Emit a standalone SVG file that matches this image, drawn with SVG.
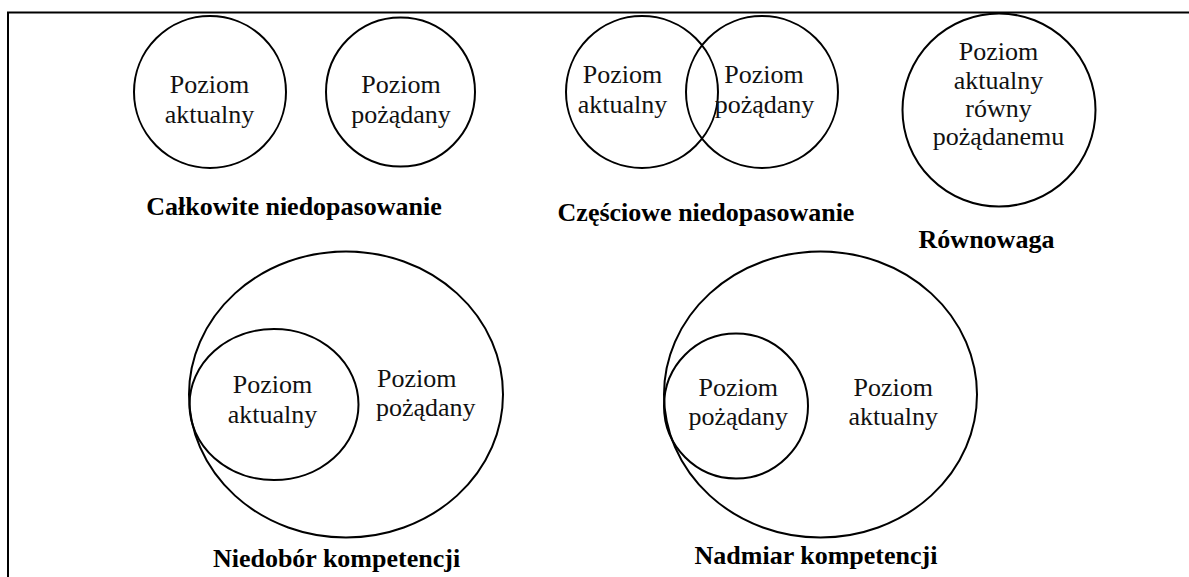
<svg xmlns="http://www.w3.org/2000/svg" width="1189" height="577" viewBox="0 0 1189 577">
  <style>
    .ring { fill: none; stroke: #000; stroke-width: 2; }
    .frame { fill: none; stroke: #000; stroke-width: 2; }
    .lbl { font-family: "Liberation Serif", "Times New Roman", serif; font-size: 26px; fill: #111; text-anchor: middle; }
    .lbl-l { font-family: "Liberation Serif", "Times New Roman", serif; font-size: 26px; fill: #111; text-anchor: start; }
    .cap { font-family: "Liberation Serif", "Times New Roman", serif; font-size: 26px; font-weight: bold; fill: #000; text-anchor: middle; }
  </style>
  <rect width="1189" height="577" fill="#fff"/>

  <!-- frame: top and left edges only -->
  <path class="frame" d="M8,577 V12.5 H1189"/>

  <!-- complete mismatch -->
  <g id="total-actual">
    <circle class="ring" cx="210" cy="92" r="76"/>
    <text class="lbl" x="209.5" y="93">Poziom</text>
    <text class="lbl" x="209.5" y="123">aktualny</text>
  </g>
  <g id="total-desired">
    <circle class="ring" cx="400.5" cy="92" r="74.5"/>
    <text class="lbl" x="401" y="93">Poziom</text>
    <text class="lbl" x="401" y="123">pożądany</text>
  </g>
  <g id="total-caption">
    <text class="cap" x="294" y="215">Całkowite niedopasowanie</text>
  </g>

  <!-- partial mismatch -->
  <g id="partial-actual">
    <circle class="ring" cx="642" cy="92" r="76"/>
    <text class="lbl" x="622.5" y="83">Poziom</text>
    <text class="lbl" x="622.5" y="112.5">aktualny</text>
  </g>
  <g id="partial-desired">
    <circle class="ring" cx="762" cy="92" r="76"/>
    <text class="lbl" x="764" y="83">Poziom</text>
    <text class="lbl" x="764.5" y="112.5">pożądany</text>
  </g>
  <g id="partial-caption">
    <text class="cap" x="706" y="221">Częściowe niedopasowanie</text>
  </g>

  <!-- balance -->
  <g id="balance">
    <circle class="ring" cx="999" cy="110" r="96.5"/>
    <text class="lbl" x="998.5" y="60">Poziom</text>
    <text class="lbl" x="998.5" y="88.5">aktualny</text>
    <text class="lbl" x="998.5" y="117">równy</text>
    <text class="lbl" x="998.5" y="145">pożądanemu</text>
  </g>
  <g id="balance-caption">
    <text class="cap" x="986.5" y="248">Równowaga</text>
  </g>

  <!-- competence shortage -->
  <g id="shortage-desired">
    <ellipse class="ring" cx="346" cy="394.5" rx="157" ry="143"/>
    <text class="lbl-l" x="377" y="387">Poziom</text>
    <text class="lbl-l" x="376" y="416">pożądany</text>
  </g>
  <g id="shortage-actual">
    <ellipse class="ring" cx="274" cy="404.5" rx="84.5" ry="75.5"/>
    <text class="lbl" x="272.5" y="393">Poziom</text>
    <text class="lbl" x="272.5" y="423">aktualny</text>
  </g>
  <g id="shortage-caption">
    <text class="cap" x="336.5" y="567">Niedobór kompetencji</text>
  </g>

  <!-- competence surplus -->
  <g id="surplus-actual">
    <ellipse class="ring" cx="820.5" cy="394.5" rx="156.5" ry="143"/>
    <text class="lbl" x="893.3" y="396">Poziom</text>
    <text class="lbl" x="893.3" y="425">aktualny</text>
  </g>
  <g id="surplus-desired">
    <ellipse class="ring" cx="736" cy="406" rx="72" ry="72.5"/>
    <text class="lbl" x="738.3" y="396">Poziom</text>
    <text class="lbl" x="738.3" y="425">pożądany</text>
  </g>
  <g id="surplus-caption">
    <text class="cap" x="816" y="564">Nadmiar kompetencji</text>
  </g>
</svg>
